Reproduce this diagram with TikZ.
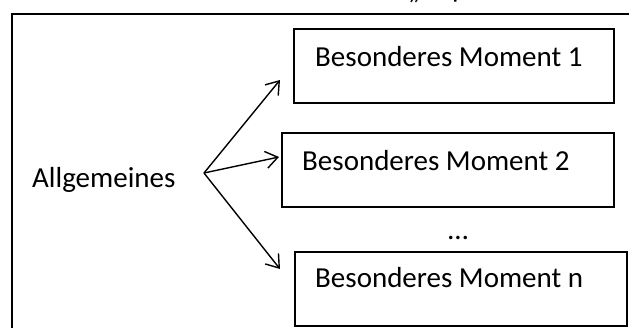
\documentclass[tikz,border=0pt]{standalone}
\usepackage{fontspec}
\setmainfont{Carlito}
\usetikzlibrary{arrows.meta}
\begin{document}
\begin{tikzpicture}[x=1pt,y=-1pt,
  txt/.style={inner sep=0pt,anchor=base west,font=\fontsize{29}{34}\selectfont},
  momentbox/.style={draw,line width=2pt,rectangle,inner sep=0pt,minimum width=#1,minimum height=74pt,anchor=north west},
  arr/.style={line width=1.4pt,-{Straight Barb[length=12pt,width=17pt,line width=1.4pt]}}]
\useasboundingbox (0,0) rectangle (629,327);
\clip (0,0) rectangle (629,327);
% clipped fragments of the text line above
\node[txt] (q) at (408,-2) {„};
\node[txt] (p) at (452,-3) {p};
% outer frame
\draw[line width=2pt] (12,340) -- (12,14) -- (640,14);
% boxes
\node[momentbox=320pt] (b1) at (293,28) {};
\node[momentbox=332pt] (b2) at (281,132) {};
\node[momentbox=332pt] (bn) at (294,251) {};
% texts
\node[txt] (t1) at (315,66) {Besonderes Moment 1};
\node[txt] (t2) at (302,170) {Besonderes Moment 2};
\node[txt] (tn) at (315,287) {Besonderes Moment n};
\node[txt] (dots) at (448,239) {…};
\node[txt] (allg) at (32,187) {Allgemeines};
% arrows
\coordinate (o) at (204,173);
\coordinate (e1) at (280,80);
\coordinate (e2) at (279,157);
\coordinate (e3) at (280,269);
\draw[arr] (o) -- (e1);
\draw[arr] (o) -- (e2);
\draw[arr] (o) -- (e3);
\end{tikzpicture}
\end{document}
